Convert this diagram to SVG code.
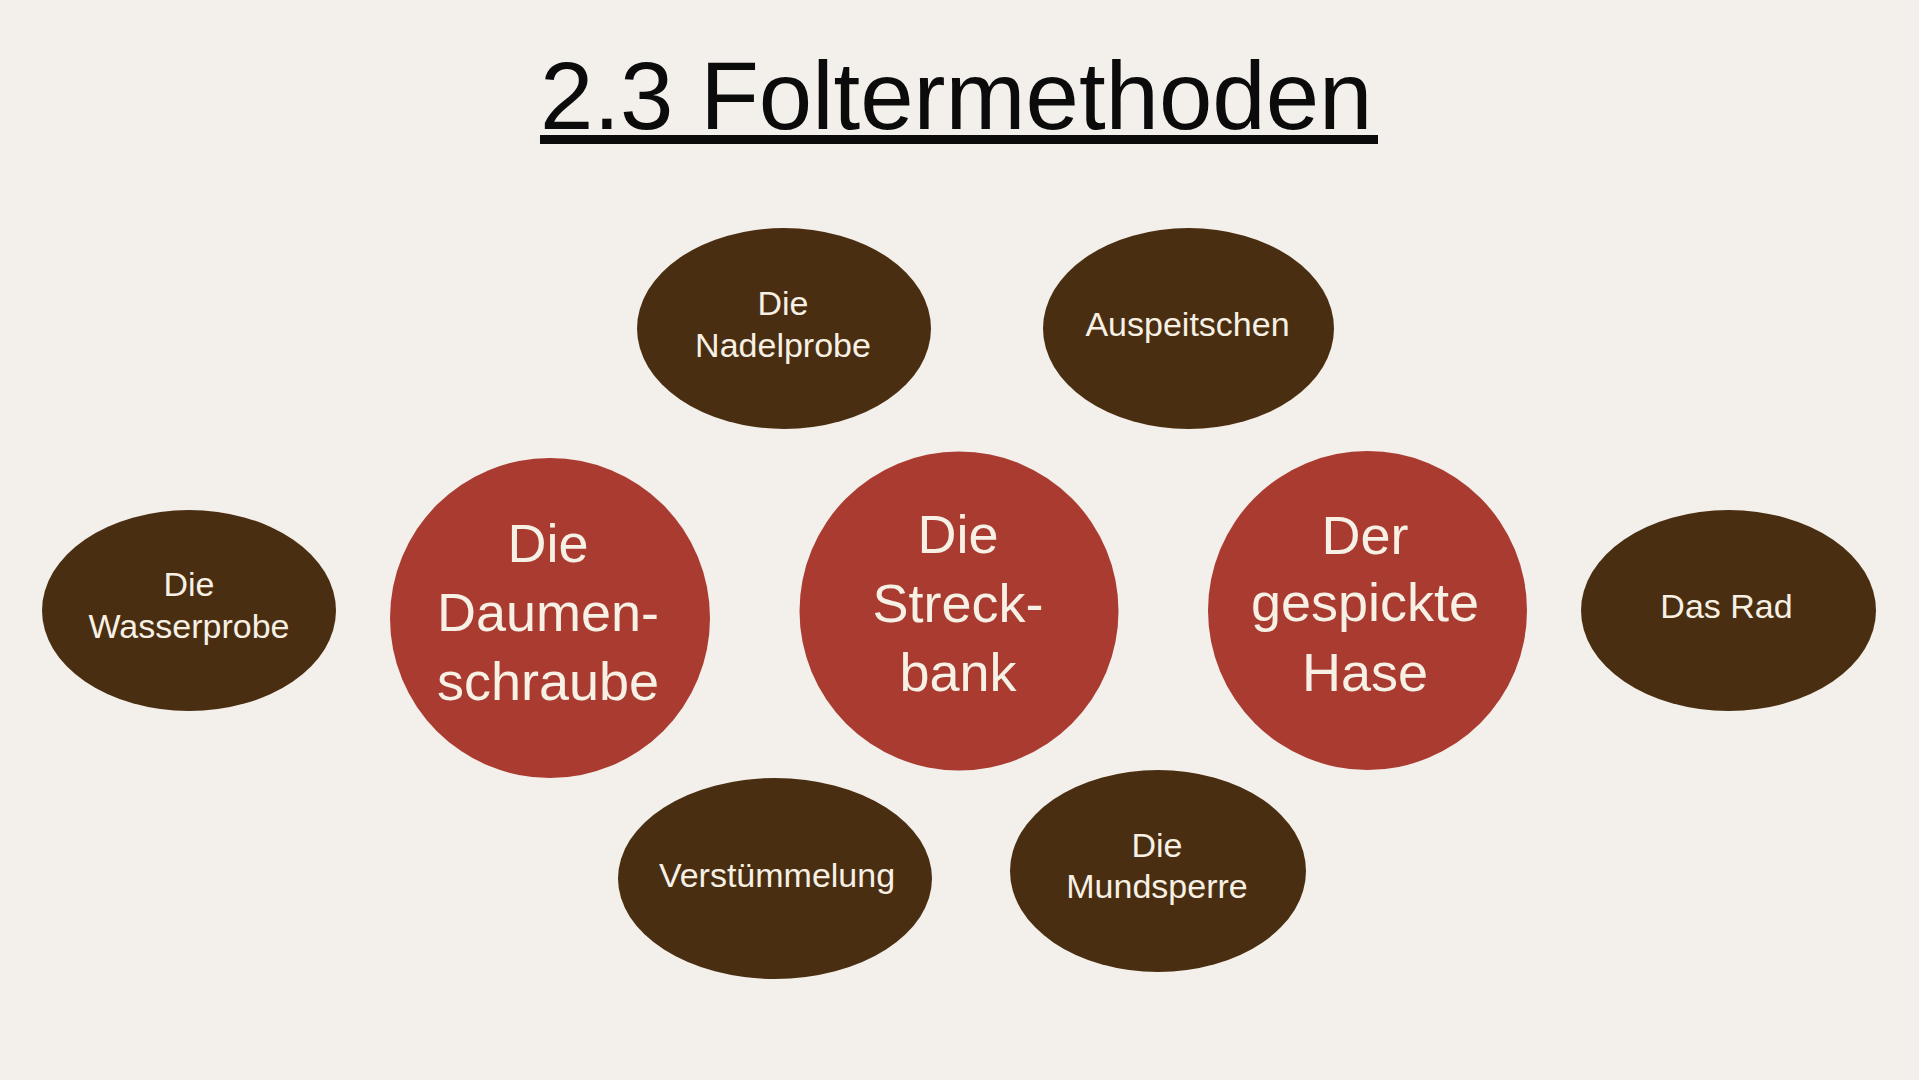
<svg xmlns="http://www.w3.org/2000/svg" width="1919" height="1080" viewBox="0 0 1919 1080">
  <style>
    .bg { fill: #F3EFEA; }
    .brown { fill: #4A2E11; }
    .red { fill: #A93B31; }
    .sm { font-family: "Liberation Sans", Arial, sans-serif; font-size: 34px; fill: #F7F0E4; text-anchor: middle; }
    .lg { font-family: "Liberation Sans", Arial, sans-serif; font-size: 54px; fill: #F7F0E4; text-anchor: middle; }
    .title { font-family: "Liberation Sans", Arial, sans-serif; font-size: 96px; fill: #0B0B0B; }
  </style>
  <rect class="bg" x="0" y="0" width="1919" height="1080"/>

  <g id="title">
    <text class="title" x="540" y="129">2.3 Foltermethoden</text>
    <rect x="540" y="135" width="838" height="9" fill="#0B0B0B"/>
  </g>

  <g id="connectors"/>

  <g id="node-nadelprobe">
    <ellipse class="brown" cx="784" cy="328.5" rx="147" ry="100.5"/>
    <text class="sm" x="783" y="315">Die</text>
    <text class="sm" x="783" y="357">Nadelprobe</text>
  </g>

  <g id="node-auspeitschen">
    <ellipse class="brown" cx="1188.5" cy="328.5" rx="145.5" ry="100.5"/>
    <text class="sm" x="1187.5" y="336">Auspeitschen</text>
  </g>

  <g id="node-wasserprobe">
    <ellipse class="brown" cx="189" cy="610.5" rx="147" ry="100.5"/>
    <text class="sm" x="189" y="596">Die</text>
    <text class="sm" x="189" y="638">Wasserprobe</text>
  </g>

  <g id="node-daumenschraube">
    <circle class="red" cx="550" cy="618" r="160"/>
    <text class="lg" x="548" y="562">Die</text>
    <text class="lg" x="548" y="630.5">Daumen-</text>
    <text class="lg" x="548" y="699.5">schraube</text>
  </g>

  <g id="node-streckbank">
    <circle class="red" cx="959" cy="611" r="159.5"/>
    <text class="lg" x="958" y="553">Die</text>
    <text class="lg" x="958" y="622">Streck-</text>
    <text class="lg" x="958" y="691">bank</text>
  </g>

  <g id="node-hase">
    <circle class="red" cx="1367.5" cy="610.5" r="159.5"/>
    <text class="lg" x="1365" y="554">Der</text>
    <text class="lg" x="1365" y="621">gespickte</text>
    <text class="lg" x="1365" y="691">Hase</text>
  </g>

  <g id="node-rad">
    <ellipse class="brown" cx="1728.5" cy="610.5" rx="147.5" ry="100.5"/>
    <text class="sm" x="1726.5" y="618">Das Rad</text>
  </g>

  <g id="node-verstuemmelung">
    <ellipse class="brown" cx="775" cy="878.5" rx="157" ry="100.5"/>
    <text class="sm" x="777" y="887">Verstümmelung</text>
  </g>

  <g id="node-mundsperre">
    <ellipse class="brown" cx="1158" cy="871" rx="148" ry="101"/>
    <text class="sm" x="1157" y="857">Die</text>
    <text class="sm" x="1157" y="898">Mundsperre</text>
  </g>
</svg>
